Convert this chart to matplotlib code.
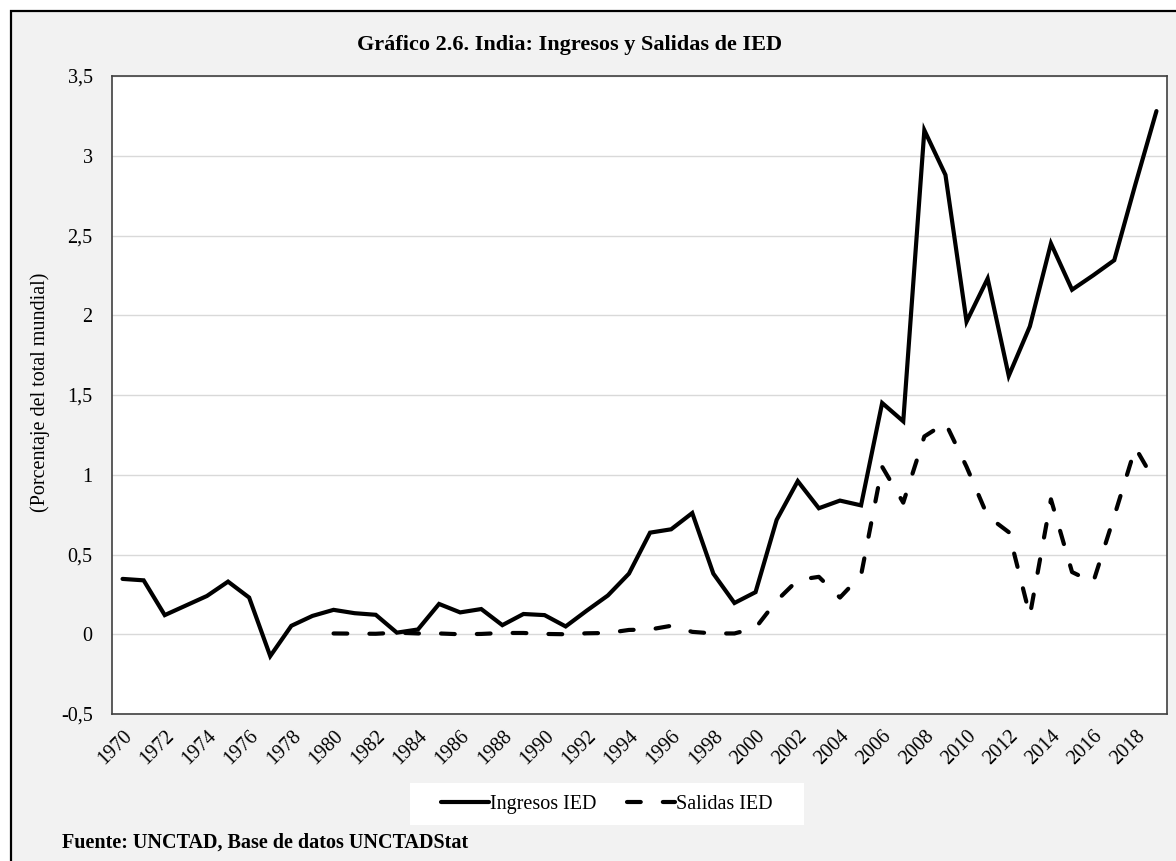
import numpy as np
import matplotlib
matplotlib.use("Agg")
import matplotlib.pyplot as plt
from matplotlib.patches import Rectangle

plt.rcParams['font.family'] = ['Liberation Serif', 'DejaVu Serif']

years = np.arange(1970, 2020)
ingresos = [0.347, 0.338, 0.12, 0.18, 0.24, 0.33, 0.23, -0.137, 0.053, 0.115,
            0.153, 0.132, 0.122, 0.01, 0.03, 0.19, 0.137, 0.158, 0.057, 0.127,
            0.12, 0.049, 0.148, 0.243, 0.38, 0.637, 0.658, 0.76, 0.38, 0.196,
            0.264, 0.717, 0.96, 0.79, 0.838, 0.808, 1.45, 1.335, 3.16, 2.88,
            1.96, 2.23, 1.62, 1.93, 2.45, 2.16, 2.25, 2.345, 2.82, 3.28]
years_sal = np.arange(1980, 2020)
salidas = [0.005, 0.004, 0.003, 0.01, 0.005, 0.005, 0.0, 0.002, 0.008, 0.008,
           0.002, 0.0, 0.006, 0.008, 0.027, 0.03, 0.053, 0.015, 0.005, 0.005,
           0.04, 0.21, 0.34, 0.36, 0.23, 0.37, 1.05, 0.825, 1.24, 1.325,
           1.05, 0.74, 0.64, 0.117, 0.846, 0.39, 0.325, 0.74, 1.17, 0.94]
yticks = [-0.5, 0, 0.5, 1, 1.5, 2, 2.5, 3, 3.5]
ytick_labels = ["-0,5", "0", "0,5", "1", "1,5", "2", "2,5", "3", "3,5"]

W, H = 1176, 861
fig = plt.figure(figsize=(W / 100, H / 100), dpi=100, facecolor="white")

# gray panel with black frame (right/bottom edges fall outside the picture)
fig.patches.append(Rectangle((11 / W, -0.05), 1.1, 1 - 11 / H + 0.05,
                             transform=fig.transFigure, facecolor="#f2f2f2",
                             edgecolor="black", lw=1.6, zorder=-2))
# white legend box
fig.patches.append(Rectangle((410 / W, 1 - 825 / H), 394 / W, 42 / H,
                             transform=fig.transFigure, facecolor="white",
                             edgecolor="none", zorder=-1))

ax = fig.add_axes([112 / W, 1 - 714 / H, (1167 - 112) / W, (714 - 76) / H])
ax.set_zorder(2)
ax.set_facecolor("white")

ax.plot(years, ingresos, color="black", lw=3, solid_capstyle="round",
        solid_joinstyle="miter", label="Ingresos IED", zorder=3)
ax.plot(years_sal, salidas, color="black", lw=3, linestyle=(0, (3.3, 5.3)),
        dash_capstyle="round", label="Salidas IED", zorder=3)

ax.set_xlim(1969.5, 2019.5)
ax.set_ylim(-0.5, 3.5)
ax.set_yticks(yticks)
ax.set_yticklabels(ytick_labels)
ax.set_xticks(np.arange(1970, 2019, 2))
ax.set_xticklabels([str(y) for y in range(1970, 2019, 2)], rotation=45,
                   ha="right", rotation_mode="anchor")
ax.tick_params(axis="both", length=0, labelsize=14.5)
ax.tick_params(axis="y", pad=14)
ax.tick_params(axis="x", pad=9)
ax.grid(axis="y", color="#d9d9d9", lw=1)
ax.set_axisbelow(True)
for s in ax.spines.values():
    s.set_color("#404040")
    s.set_linewidth(1.2)

fig.text(570 / W, 1 - 45 / H, "Gráfico 2.6. India: Ingresos y Salidas de IED",
         ha="center", va="center", fontsize=16, fontweight="bold")
fig.text(40 / W, 1 - 392 / H, "(Porcentaje del total mundial)", rotation=90,
         ha="center", va="center", fontsize=14.5)
fig.text(62 / W, 1 - 843 / H, "Fuente: UNCTAD, Base de datos UNCTADStat",
         ha="left", va="center", fontsize=14.5, fontweight="bold")

fig.legend(loc="center", bbox_to_anchor=(607 / W, 1 - 804 / H), ncol=2,
           frameon=False, fontsize=14.5, handlelength=2.4, handletextpad=0.05,
           columnspacing=1.5)

fig.savefig("out.png", dpi=100, facecolor=fig.get_facecolor())
